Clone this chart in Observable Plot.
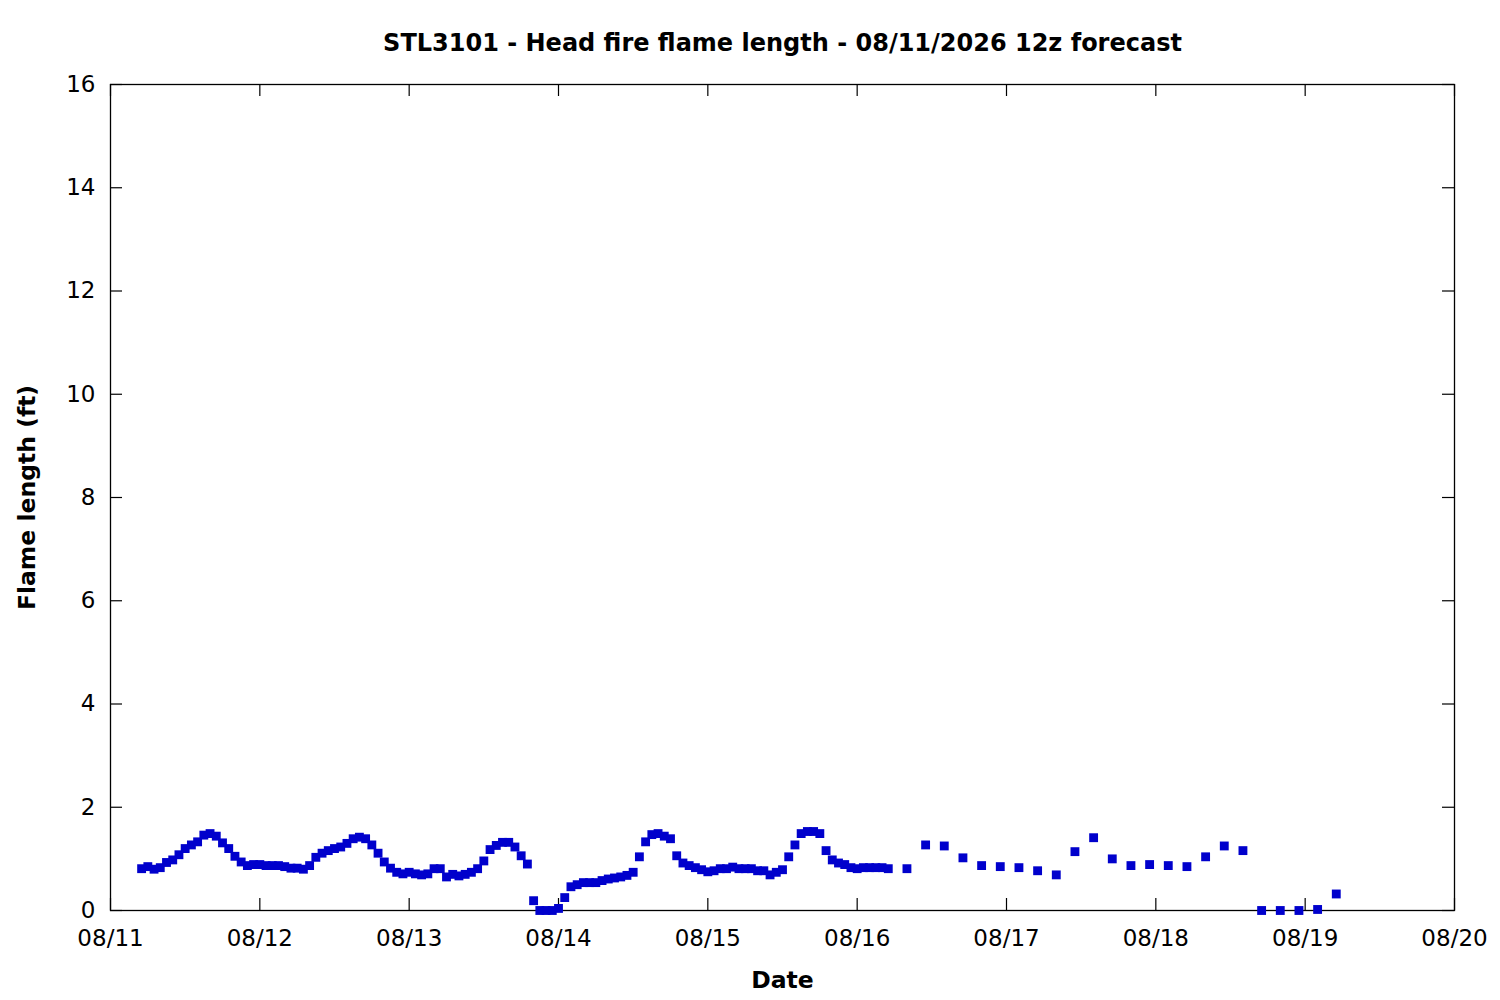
<!DOCTYPE html>
<html>
<head>
<meta charset="utf-8">
<script src="https://cdn.jsdelivr.net/npm/d3@7"></script>
<script src="https://cdn.jsdelivr.net/npm/@observablehq/plot@0.6"></script>
<style>
  html, body { margin: 0; padding: 0; background: #fff; }
  #chart svg { display: block; }
</style>
</head>
<body>
<div id="chart"></div>
<script>
// ---- data ----
const titleText = "STL3101 - Head fire flame length - 08/11/2026 12z forecast";
const xLabelText = "Date";
const yLabelText = "Flame length (ft)";

// hours since 08/11/2026 00:00
const hours = [
  5, 6, 7, 8, 9, 10, 11, 12, 13, 14, 15, 16, 17, 18, 19, 20, 21, 22, 23,
  24, 25, 26, 27, 28, 29, 30, 31, 32, 33, 34, 35, 36, 37, 38, 39, 40, 41, 42, 43, 44, 45, 46, 47,
  48, 49, 50, 51, 52, 53, 54, 55, 56, 57, 58, 59, 60, 61, 62, 63, 64, 65, 66, 67, 68, 69, 70, 71,
  72, 73, 74, 75, 76, 77, 78, 79, 80, 81, 82, 83, 84, 85, 86, 87, 88, 89, 90, 91, 92, 93, 94, 95,
  96, 97, 98, 99, 100, 101, 102, 103, 104, 105, 106, 107, 108, 109, 110, 111, 112, 113, 114, 115,
  116, 117, 118, 119, 120, 121, 122, 123, 124, 125,
  128, 131, 134, 137, 140, 143, 146, 149, 152, 155, 158, 161, 164, 167, 170, 173, 176, 179, 182,
  185, 188, 191, 194, 197
];

const flameLength = [
  0.81, 0.85, 0.80, 0.83, 0.93, 0.98, 1.08, 1.20, 1.27, 1.33, 1.46, 1.49, 1.44, 1.31, 1.20, 1.05, 0.94, 0.87, 0.89,
  0.89, 0.87, 0.87, 0.87, 0.85, 0.82, 0.82, 0.80, 0.87, 1.03, 1.11, 1.16, 1.20, 1.23, 1.30, 1.39, 1.42, 1.39, 1.27, 1.11, 0.94, 0.82, 0.74, 0.71,
  0.74, 0.71, 0.69, 0.71, 0.81, 0.81, 0.65, 0.70, 0.67, 0.70, 0.74, 0.81, 0.96, 1.18, 1.26, 1.32, 1.32, 1.23, 1.06, 0.90, 0.19, 0.00, 0.00, 0.00,
  0.04, 0.25, 0.46, 0.50, 0.54, 0.54, 0.54, 0.58, 0.61, 0.63, 0.65, 0.68, 0.74, 1.04, 1.33, 1.47, 1.49, 1.44, 1.39, 1.06, 0.92, 0.87, 0.83, 0.79,
  0.75, 0.77, 0.81, 0.81, 0.84, 0.81, 0.81, 0.81, 0.77, 0.77, 0.69, 0.74, 0.79, 1.04, 1.27, 1.49, 1.53, 1.53, 1.49, 1.16,
  0.98, 0.92, 0.89, 0.83, 0.81, 0.83, 0.83, 0.83, 0.83, 0.81,
  0.81, 1.27, 1.25, 1.02, 0.87, 0.85, 0.83, 0.77, 0.69, 1.14, 1.41, 1.00, 0.87, 0.89, 0.87, 0.85, 1.04, 1.25, 1.16,
  0.00, 0.00, 0.00, 0.02, 0.32
];

const xTickDays = [11, 12, 13, 14, 15, 16, 17, 18, 19, 20];
const xTickLabels = ["08/11", "08/12", "08/13", "08/14", "08/15", "08/16", "08/17", "08/18", "08/19", "08/20"];
const yTicks = [0, 2, 4, 6, 8, 10, 12, 14, 16];

// ---- build ----
const base = Date.UTC(2026, 7, 11);
const data = hours.map((h, i) => ({t: new Date(base + h * 3600e3), v: flameLength[i]}));
const xTicks = xTickDays.map((d, i) => ({date: new Date(Date.UTC(2026, 7, d)), label: xTickLabels[i]}));

const width = 1500, height = 1000;
const mTop = 84, mLeft = 110, mRight = 46, mBottom = 90;
const frameW = width - mLeft - mRight;
const frameH = height - mTop - mBottom;
const tickLen = 12;
const font = "DejaVu Sans";

const chart = Plot.plot({
  width, height,
  marginTop: mTop, marginLeft: mLeft, marginRight: mRight, marginBottom: mBottom,
  style: {fontFamily: font, fontSize: "22px", background: "#fff", color: "#000", overflow: "visible"},
  x: {type: "utc", domain: [xTicks[0].date, xTicks[xTicks.length - 1].date], axis: null},
  y: {domain: [0, 16], axis: null},
  marks: [
    // inward ticks on all four sides
    Plot.tickY(yTicks, {y: d => d, insetRight: frameW - tickLen, stroke: "#000", strokeWidth: 1.2}),
    Plot.tickY(yTicks, {y: d => d, insetLeft: frameW - tickLen, stroke: "#000", strokeWidth: 1.2}),
    Plot.tickX(xTicks, {x: "date", insetTop: frameH - tickLen, stroke: "#000", strokeWidth: 1.2}),
    Plot.tickX(xTicks, {x: "date", insetBottom: frameH - tickLen, stroke: "#000", strokeWidth: 1.2}),
    Plot.frame({stroke: "#000", strokeWidth: 1.3}),
    // tick labels
    Plot.text(yTicks, {y: d => d, text: d => String(d), frameAnchor: "left", dx: -15, textAnchor: "end", lineAnchor: "middle", fontSize: 23, fill: "#000"}),
    Plot.text(xTicks, {x: "date", text: "label", frameAnchor: "bottom", dy: 28, textAnchor: "middle", lineAnchor: "middle", fontSize: 23, fill: "#000"}),
    // data
    Plot.dot(data, {x: "t", y: "v", symbol: "square", r: 5, fill: "#0000cc", stroke: "none"}),
    // titles
    Plot.text([titleText], {text: d => d, frameAnchor: "top", dy: -41, textAnchor: "middle", lineAnchor: "middle", fontWeight: "bold", fontSize: 24, fill: "#000"}),
    Plot.text([xLabelText], {text: d => d, frameAnchor: "bottom", dy: 70, textAnchor: "middle", lineAnchor: "middle", fontWeight: "bold", fontSize: 23.5, fill: "#000"}),
    Plot.text([yLabelText], {text: d => d, frameAnchor: "left", dx: -83, rotate: -90, textAnchor: "middle", lineAnchor: "middle", fontWeight: "bold", fontSize: 23.5, fill: "#000"})
  ]
});
document.getElementById("chart").appendChild(chart);
</script>
</body>
</html>
